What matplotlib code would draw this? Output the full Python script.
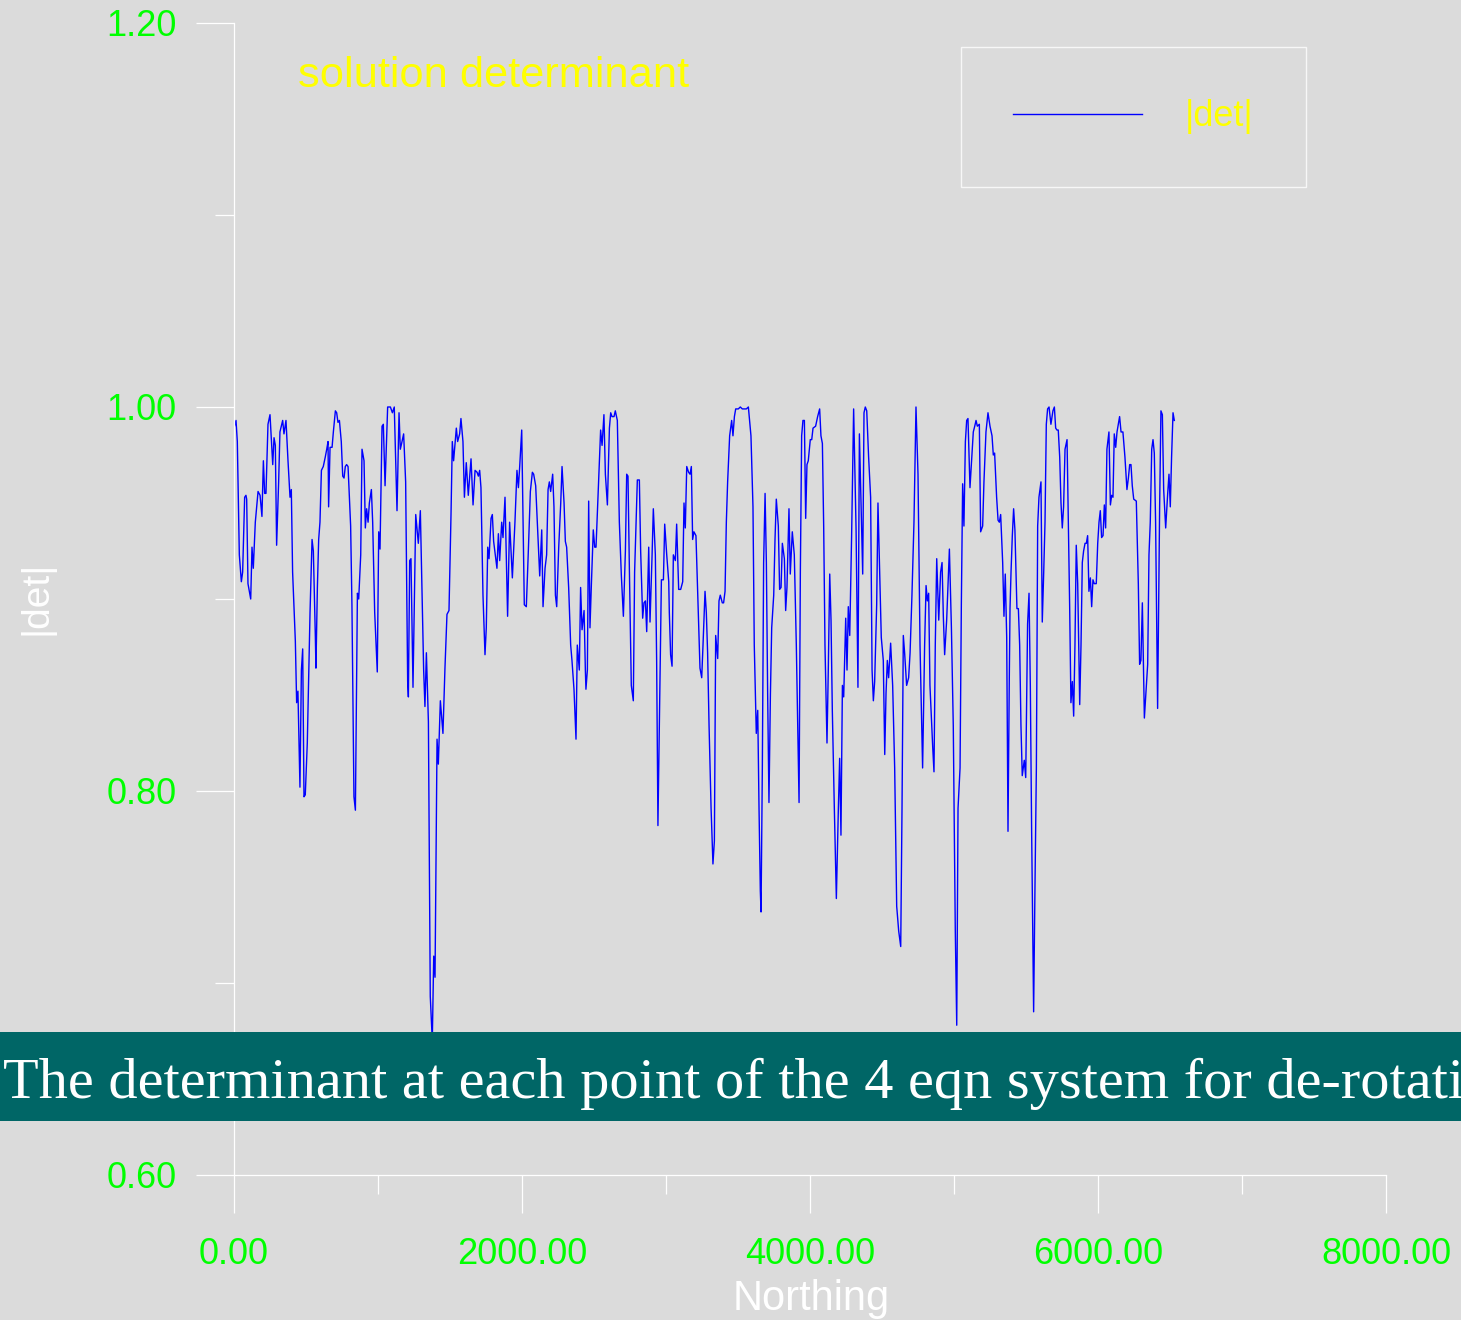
import matplotlib
matplotlib.use("Agg")
import matplotlib.pyplot as plt
from matplotlib.patches import Rectangle
from matplotlib.ticker import MultipleLocator, FormatStrFormatter

# |det| of the 4 eqn system
northing = [
    0, 14, 23, 37, 51, 60, 74, 83, 88, 97, 116, 125, 134, 148, 167, 181, 194, 204, 213, 222,
    236, 250, 269, 278, 287, 296, 310, 319, 338, 347, 361, 375, 389, 398, 407, 426, 435, 444, 458, 468,
    477, 486, 495, 509, 528, 542, 551, 565, 569, 579, 588, 597, 607, 620, 634, 644, 653, 657, 667, 681,
    690, 704, 713, 722, 732, 745, 755, 764, 773, 782, 792, 810, 819, 833, 843, 857, 866, 880, 889, 903,
    912, 921, 931, 940, 954, 963, 977, 995, 1005, 1014, 1028, 1037,
    1049, 1067, 1086, 1100, 1113, 1132, 1146, 1155, 1164, 1178, 1192, 1206, 1211, 1220, 1229, 1243, 1262, 1280, 1294, 1303,
    1317, 1326, 1336, 1350, 1363, 1377, 1387, 1396, 1410, 1419, 1433, 1451, 1465, 1479, 1493, 1507, 1516, 1525, 1544, 1553,
    1567, 1576, 1590, 1600, 1613, 1627, 1646, 1660, 1674, 1688, 1697, 1706, 1715, 1729, 1743, 1752, 1762, 1771, 1785, 1794,
    1803, 1826, 1836, 1845, 1859, 1868, 1882, 1900, 1914, 1933, 1951, 1965, 1975, 1984, 1998, 2016, 2030, 2044, 2058, 2072,
    2081, 2095, 2109, 2123, 2137, 2146, 2160,
    2171, 2181, 2190, 2199, 2213, 2222, 2232, 2241, 2255, 2269, 2278, 2292, 2301, 2310, 2324, 2338, 2347, 2361, 2375, 2384,
    2398, 2407, 2417, 2431, 2440, 2444, 2454, 2463, 2472, 2482, 2495, 2505, 2514, 2532, 2546, 2556, 2569, 2579, 2593, 2607,
    2616, 2625, 2639, 2648, 2662, 2676, 2690, 2704, 2718, 2727, 2736, 2745, 2759, 2773, 2782, 2796, 2801, 2815, 2824, 2838,
    2847, 2857, 2866, 2880, 2889, 2903, 2912, 2926, 2935, 2944, 2954, 2963, 2968, 2982, 2991, 3005, 3019, 3023, 3032, 3042,
    3051, 3065, 3074, 3088, 3102, 3116, 3125, 3134, 3144, 3157, 3167, 3176, 3185, 3194, 3208, 3227, 3236,
    3248, 3257, 3271, 3280, 3289, 3299, 3313, 3326, 3336, 3345, 3359, 3368, 3377, 3391, 3400, 3410, 3419, 3428, 3442, 3456,
    3465, 3475, 3484, 3502, 3516, 3530, 3544, 3558, 3572, 3590, 3604, 3613, 3627, 3637, 3646, 3655, 3660, 3669, 3678, 3688,
    3697, 3706, 3715, 3725, 3734, 3748, 3757, 3766, 3780, 3789, 3799, 3808, 3822, 3831, 3840, 3854, 3863, 3868, 3877, 3891,
    3905, 3924, 3933, 3942, 3951, 3961, 3970, 3979, 3988, 4002, 4012, 4021, 4039, 4053, 4067, 4076, 4086, 4095, 4104, 4113,
    4118, 4127, 4137, 4146, 4155, 4169, 4183, 4197, 4206, 4215, 4225, 4234, 4248, 4257, 4266, 4276, 4289, 4303,
    4320, 4333, 4343, 4352, 4366, 4375, 4384, 4394, 4407, 4421, 4431, 4440, 4449, 4463, 4472, 4482, 4495, 4509, 4519, 4528,
    4537, 4546, 4560, 4574, 4588, 4602, 4616, 4630, 4639, 4648, 4657, 4671, 4685, 4695, 4708, 4722, 4736, 4750, 4764, 4782,
    4796, 4806, 4815, 4824, 4833, 4852, 4861, 4870, 4880, 4894, 4907, 4917, 4926, 4935, 4949, 4968, 4982, 4995, 5009, 5019,
    5028, 5042, 5051, 5060, 5069, 5079, 5088, 5097, 5111, 5125, 5134, 5144, 5153, 5162, 5176, 5185, 5199, 5208, 5222, 5236,
    5250, 5264, 5273, 5282, 5296, 5306, 5315, 5324, 5338, 5347, 5356, 5366, 5375, 5384, 5389,
    5396, 5405, 5414, 5423, 5437, 5447, 5456, 5465, 5474, 5488, 5498, 5511, 5521, 5530, 5539, 5553, 5562, 5572, 5581, 5590,
    5604, 5613, 5623, 5632, 5641, 5650, 5660, 5673, 5687, 5697, 5706, 5715, 5724, 5734, 5743, 5752, 5761, 5771, 5785, 5794,
    5803, 5812, 5822, 5831, 5840, 5849, 5859, 5873, 5882, 5891, 5900, 5910, 5919, 5928, 5937, 5947, 5956, 5965, 5974, 5988,
    5998, 6007, 6016, 6025, 6035, 6044, 6053, 6062, 6076, 6086, 6095, 6104, 6113, 6123, 6132, 6141, 6150, 6160, 6173, 6187,
    6201, 6211, 6220, 6229, 6238, 6248, 6266, 6280, 6289, 6298, 6308, 6322, 6336, 6345, 6354, 6363, 6373, 6382, 6391, 6400,
    6414, 6428, 6437, 6447, 6456, 6470, 6484, 6493, 6502, 6511, 6521, 6530,
]
det = [
    .989, .993, .982, .923, .909, .914, .953, .954, .952, .908, .900, .927, .916, .940, .956, .954, .943, .972, .955, .955,
    .991, .996, .970, .984, .980, .928, .961, .987, .993, .986, .993, .972, .953, .957, .914, .878, .846, .852, .802, .863,
    .874, .797, .798, .825, .893, .931, .925, .880, .864, .906, .931, .940, .967, .969, .974, .978, .982, .948, .979, .979,
    .987, .998, .997, .992, .993, .982, .964, .963, .969, .970, .969, .938, .897, .797, .790, .903, .900, .923, .978, .972,
    .937, .947, .940, .950, .957, .940, .893, .862, .935, .926, .990, .991,
    .959, 1.000, 1.000, .997, 1.000, .946, .997, .978, .981, .986, .961, .857, .849, .920, .921, .854, .944, .929, .946, .914,
    .863, .844, .872, .836, .693, .670, .714, .703, .827, .814, .847, .830, .864, .892, .894, .944, .982, .972, .989, .982,
    .986, .994, .982, .953, .971, .954, .973, .949, .967, .966, .964, .967, .958, .902, .871, .885, .927, .921, .942, .944,
    .930, .916, .934, .920, .940, .932, .953, .891, .940, .911, .940, .967, .958, .969, .988, .897, .896, .925, .956, .966,
    .965, .959, .936, .912, .936, .896, .916,
    .923, .957, .961, .956, .965, .948, .902, .896, .927, .950, .969, .950, .930, .927, .906, .876, .868, .853, .827, .876,
    .863, .906, .884, .894, .863, .853, .863, .951, .885, .908, .936, .927, .927, .961, .988, .980, .996, .965, .949, .989,
    .997, .995, .995, .998, .993, .940, .912, .891, .925, .965, .964, .919, .855, .847, .914, .948, .962, .962, .925, .890,
    .898, .899, .883, .927, .888, .922, .947, .923, .868, .782, .836, .886, .910, .910, .939, .923, .909, .893, .871, .865,
    .923, .920, .939, .905, .905, .909, .950, .937, .969, .966, .965, .969, .931, .935, .933, .885, .864,
    .859, .876, .904, .893, .872, .834, .791, .762, .774, .881, .869, .899, .902, .898, .898, .904, .940, .961, .985, .993,
    .985, .995, .999, .999, 1.000, .999, .999, .999, 1.000, .985, .948, .876, .830, .842, .791, .748, .737, .812, .919, .955,
    .919, .850, .794, .850, .885, .902, .931, .952, .938, .905, .906, .929, .921, .894, .906, .947, .913, .921, .935, .923,
    .876, .794, .914, .985, .993, .993, .942, .970, .972, .983, .983, .989, .990, .995, .999, .985, .981, .938, .876, .842,
    .825, .863, .913, .889, .842, .791, .744, .791, .817, .777, .855, .849, .890, .863, .896, .881, .933, .999,
    .936, .854, .986, .957, .913, .997, 1.000, .998, .974, .953, .863, .847, .857, .897, .950, .919, .880, .868, .819, .851,
    .868, .859, .877, .855, .812, .740, .727, .719, .791, .881, .872, .855, .859, .872, .902, .940, 1.000, .965, .876, .812,
    .876, .907, .899, .903, .855, .823, .810, .876, .921, .889, .914, .919, .891, .871, .889, .926, .885, .834, .727, .678,
    .791, .812, .897, .960, .938, .982, .993, .994, .958, .976, .987, .990, .993, .990, .991, .935, .938, .961, .987, .997,
    .990, .985, .975, .976, .953, .941, .940, .944, .919, .891, .913, .880, .779, .859, .895,
    .914, .933, .947, .936, .895, .895, .876, .834, .808, .816, .807, .887, .903, .855, .780, .685, .748, .812, .938, .953,
    .961, .888, .914, .940, .991, .999, 1.000, .991, .998, 1.000, .989, .988, .988, .974, .950, .937, .948, .978, .983, .940,
    .897, .846, .857, .839, .876, .928, .908, .845, .876, .919, .925, .929, .929, .933, .904, .911, .896, .910, .908, .908,
    .929, .940, .946, .932, .933, .949, .937, .978, .987, .949, .954, .953, .986, .979, .987, .991, .995, .987, .987, .974,
    .957, .963, .970, .970, .959, .952, .951, .908, .866, .868, .898, .838, .855, .866, .923, .940, .978, .983, .976, .940,
    .843, .948, .998, .996, .957, .937, .955, .965, .948, .974, .997, .993,
]

x_ticks = [0, 2000, 4000, 6000, 8000]
y_ticks = [0.6, 0.8, 1.0, 1.2]
title = "solution determinant"
caption = "The determinant at each point of the 4 eqn system for de-rotation"

bg = "#dbdbdb"
W, H = 1461, 1320
plt.rcParams["font.family"] = ["Liberation Sans", "DejaVu Sans"]

fig = plt.figure(figsize=(W / 100, H / 100), dpi=100, facecolor=bg)
ax = fig.add_axes([234 / W, 1 - 1175 / H, 1152 / W, 1152 / H])
ax.set_facecolor(bg)

ax.plot(northing, det, color="#0000ff", lw=1.0, label="|det|")

ax.set_xlim(0, 8000)
ax.set_ylim(0.6, 1.2)
ax.set_xticks(x_ticks)
ax.set_yticks(y_ticks)
ax.xaxis.set_minor_locator(MultipleLocator(1000))
ax.yaxis.set_minor_locator(MultipleLocator(0.1))
ax.xaxis.set_major_formatter(FormatStrFormatter("%.2f"))
ax.yaxis.set_major_formatter(FormatStrFormatter("%.2f"))

for s in ["top", "right"]:
    ax.spines[s].set_visible(False)
for s in ["left", "bottom"]:
    ax.spines[s].set_color("white")
    ax.spines[s].set_linewidth(0.9)

ax.tick_params(which="major", length=27.5, width=0.9, color="white",
               labelcolor="#00ff00", labelsize=26, pad=14)
ax.tick_params(axis="x", which="major", pad=17.5)
ax.tick_params(which="minor", length=13.5, width=0.9, color="white")

leg = ax.legend(loc="center", bbox_to_anchor=(1133.5 / W, 1 - 117 / H),
                bbox_transform=fig.transFigure, fontsize=26, frameon=True,
                fancybox=False, handlelength=3.55, handletextpad=1.2,
                borderpad=1.45, borderaxespad=0)
leg.get_frame().set_facecolor("none")
leg.get_frame().set_edgecolor("white")
leg.get_frame().set_linewidth(1.0)
for t in leg.get_texts():
    t.set_color("#ffff00")

fig.text(298 / W, 1 - 87 / H, title, color="#ffff00", fontsize=31.2,
         ha="left", va="baseline")
fig.text(811 / W, 1 - 1310 / H, "Northing", color="white", fontsize=30,
         ha="center", va="baseline")
fig.text(37 / W, 1 - 598 / H, "|det|", color="white", fontsize=28,
         rotation=90, ha="center", va="center")

# caption band across the lower part of the plot
fig.add_artist(Rectangle((0, 1 - 1121 / H), 1, 89 / H, transform=fig.transFigure,
                         facecolor="#006666", edgecolor="none", zorder=5))
fig.text(3 / W, 1 - 1098 / H, caption, color="white", fontsize=42,
         family=["Liberation Serif", "DejaVu Serif"], ha="left", va="baseline", zorder=6)

fig.savefig("out.png", dpi=100, facecolor=bg)
